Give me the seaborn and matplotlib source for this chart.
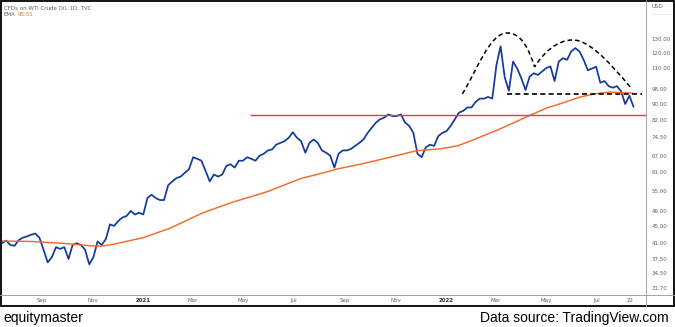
import numpy as np
import pandas as pd
import matplotlib
matplotlib.use("Agg")
import matplotlib.pyplot as plt
import matplotlib.dates as mdates
from matplotlib.path import Path
from matplotlib.patches import PathPatch, Rectangle
from matplotlib.lines import Line2D
from matplotlib.ticker import FixedLocator, FixedFormatter, NullLocator
import seaborn as sns

# ---- data -------------------------------------------------------------
# WTI crude oil CFD closes, sampled every 5 calendar days
price_start = "2020-07-15"
price = [
    40.9, 41.5, 40.5, 40.3, 41.6, 42.2, 42.5, 42.9, 43.2, 42.2,
    39.4, 36.7, 37.8, 40.0, 39.6, 40.0, 37.4, 40.5, 40.9, 40.5,
    39.4, 36.3, 37.8, 41.3, 40.5, 41.9, 45.5, 45.1, 46.4, 47.3,
    47.7, 49.1, 48.1, 48.6, 48.1, 52.8, 53.8, 52.8, 52.2, 52.2,
    56.8, 58.0, 59.1, 59.6, 60.9, 62.1, 66.5, 65.9, 65.2, 61.5,
    58.0, 60.3, 59.6, 60.3, 63.3, 63.9, 62.7, 65.2, 65.2, 66.5,
    65.9, 65.2, 67.1, 67.8, 69.1, 69.5, 71.4, 72.1, 72.8, 74.2,
    76.6, 74.2, 72.8, 68.2, 72.1, 73.5, 72.1, 69.1, 68.2, 67.1,
    62.7, 67.8, 69.1, 69.1, 69.7, 70.9, 72.1, 73.5, 76.3, 78.6,
    80.9, 82.4, 83.2, 84.7, 83.9, 83.9, 84.7, 80.9, 79.4, 76.3,
    67.8, 66.5, 70.3, 71.4, 70.9, 74.9, 76.3, 77.1, 79.4, 82.4,
    85.6, 86.4, 88.1, 88.1, 90.9, 92.6, 92.6, 93.5, 92.6, 111.9,
    124.5, 104.4, 96.8, 114.2, 109.8, 103.9, 97.2, 104.9, 106.9, 105.9,
    108.0, 110.1, 111.1, 102.3, 114.2, 116.4, 115.3, 120.9, 123.2, 120.9,
    115.3, 108.7, 109.8, 110.9, 101.3, 102.3, 99.4, 98.5, 99.4, 96.6,
    89.8, 94.2, 88.4,
]
price_dates = pd.date_range(price_start, periods=len(price), freq="5D")

# Exponential moving average of the close
ema_dates = pd.to_datetime([
    "2020-07-15", "2020-08-21", "2020-10-01", "2020-10-29", "2020-11-10",
    "2020-11-22", "2021-01-01", "2021-02-02", "2021-03-14", "2021-04-19",
    "2021-05-30", "2021-07-09", "2021-08-14", "2021-08-22", "2021-09-19",
    "2021-10-25", "2021-11-26", "2021-12-24", "2022-01-14", "2022-01-29",
    "2022-03-03", "2022-03-24", "2022-04-11", "2022-05-02", "2022-05-21",
    "2022-06-11", "2022-06-29", "2022-07-17", "2022-08-13",
])
ema = [
    41.4, 41.3, 40.8, 40.3, 40.2,
    40.5, 42.2, 44.5, 48.6, 51.6,
    54.7, 58.9, 61.5, 62.2, 63.9,
    66.5, 69.0, 69.7, 70.9, 72.8,
    77.5, 81.0, 84.2, 87.9, 90.4,
    93.5, 95.2, 96.1, 95.51,
]
ema_last = 95.51

# Horizontal support level
support_level = 84.6
support_from = "2021-05-09"

# Double-top outline: start point, then (control, control, end) per curve
top_pts = [
    ("2022-01-20", 95.1),
    ("2022-02-08", 110.1), ("2022-02-22", 134.2), ("2022-03-15", 134.2),
    ("2022-04-02", 134.2), ("2022-04-10", 121.9), ("2022-04-17", 110.8),
    ("2022-04-26", 118.5), ("2022-05-12", 129.0), ("2022-06-02", 129.0),
    ("2022-06-20", 129.0), ("2022-07-12", 116.5), ("2022-08-12", 97.8),
]
neck_level = 95.3
neck_span = ("2022-03-15", "2022-08-24")

# Axis ticks
y_ticks = [31.7, 34.5, 37.5, 41, 45, 49, 55, 61, 67, 74.5, 82, 90, 98, 110, 120, 130]
x_tick_dates = ["2020-09-01", "2020-11-01", "2021-01-01", "2021-03-01", "2021-05-01",
                "2021-07-01", "2021-09-01", "2021-11-01", "2022-01-01", "2022-03-01",
                "2022-05-01", "2022-07-01", "2022-08-10"]
x_tick_labels = ["Sep", "Nov", "2021", "Mar", "May", "Jul", "Sep", "Nov", "2022",
                 "Mar", "May", "Jul", "22"]

# ---- styling ----------------------------------------------------------
BLUE = "#12399c"
ORANGE = "#f26b2a"
RED = "#f2334a"
GREY_TXT = "#5d606b"
GREY_LINE = "#a0a3ab"

sns.set_style("white")
plt.rcParams["font.family"] = ["DejaVu Sans"]

W, H = 675, 327
fig = plt.figure(figsize=(W / 100, H / 100), dpi=100)
fig.patch.set_facecolor("white")

# price pane: x from 2 px to 646 px, y from 1 px to 295 px (top-down)
ax = fig.add_axes([2 / W, 1 - 295 / H, 644 / W, 294 / H])
ax.set_facecolor("white")

df_price = pd.DataFrame({"date": price_dates, "close": price})
df_ema = pd.DataFrame({"date": ema_dates, "ema": ema})

sns.lineplot(data=df_price, x="date", y="close", ax=ax, color=BLUE, lw=1.25)
sns.lineplot(data=df_ema, x="date", y="ema", ax=ax, color=ORANGE, lw=1.05)

ax.set_yscale("log")
ax.set_ylim(30.52, 160.8)
x_left = pd.Timestamp("2020-07-15")
x_right = pd.Timestamp("2022-08-29")
ax.set_xlim(x_left, x_right)

# support line
ax.hlines(support_level, pd.Timestamp(support_from), x_right, colors=RED, lw=1.0)

# double-top outline
verts = [(mdates.date2num(pd.Timestamp(d)), v) for d, v in top_pts]
codes = [Path.MOVETO] + [Path.CURVE4] * (len(verts) - 1)
ax.add_patch(PathPatch(Path(verts, codes), fill=False, edgecolor="black",
                       lw=1.1, ls=(0, (3, 2)), transform=ax.transData))
ax.hlines(neck_level, pd.Timestamp(neck_span[0]), pd.Timestamp(neck_span[1]),
          colors="black", lw=1.2, linestyles=(0, (3, 2)))

# ticks
ax.yaxis.tick_right()
ax.yaxis.set_major_locator(FixedLocator(y_ticks))
ax.yaxis.set_major_formatter(FixedFormatter([f"{t:.2f}" for t in y_ticks]))
ax.yaxis.set_minor_locator(NullLocator())
ax.tick_params(axis="y", length=0, pad=4.2, labelsize=4, labelcolor=GREY_TXT)

xt = [pd.Timestamp(d) for d in x_tick_dates]
ax.set_xticks(xt)
ax.set_xticklabels(x_tick_labels)
ax.tick_params(axis="x", length=0, pad=2.2, labelsize=4, labelcolor=GREY_TXT)
for lab in ax.get_xticklabels():
    if lab.get_text() in ("2021", "2022"):
        lab.set_fontweight("bold")
        lab.set_color("#2a2e39")

ax.set_xlabel("")
ax.set_ylabel("")
for s in ax.spines.values():
    s.set_visible(False)
ax.grid(False)

# pane separators and outer frame
def fx(px):
    return px / W

def fy(py):
    return 1 - py / H

fig.add_artist(Line2D([fx(0), fx(674)], [fy(295), fy(295)], color=GREY_LINE, lw=0.7))
fig.add_artist(Line2D([fx(646), fx(646)], [fy(0), fy(306)], color=GREY_LINE, lw=0.7))
fig.add_artist(Rectangle((fx(0.7), fy(306)), (673.6) / W, 305.3 / H, fill=False,
                         edgecolor="black", lw=1.3, transform=fig.transFigure))

# legend-style header
fig.text(fx(4), fy(8), "CFDs on WTI Crude Oil, 1D, TVC", fontsize=4, color=GREY_TXT, va="center")
fig.text(fx(4), fy(15), "EMA", fontsize=4, color=GREY_TXT, va="center")
fig.text(fx(18), fy(15), f"{ema_last:.2f}", fontsize=4, color=ORANGE, va="center")

# price scale currency
fig.text(fx(652), fy(7), "USD", fontsize=4, color=GREY_TXT, va="center")
fig.add_artist(Line2D([fx(652), fx(671)], [fy(14), fy(14)], color="#c3c6cc", lw=0.5, ls=(0, (1, 1))))

# footer
fig.text(fx(3), fy(318), "equitymaster", fontsize=10, color="black", va="center",
         family=["Liberation Sans", "DejaVu Sans"])
fig.text(fx(669), fy(318), "Data source: TradingView.com", fontsize=10, color="black",
         va="center", ha="right", family=["Liberation Sans", "DejaVu Sans"])

fig.savefig("out.png", dpi=100, facecolor="white")
